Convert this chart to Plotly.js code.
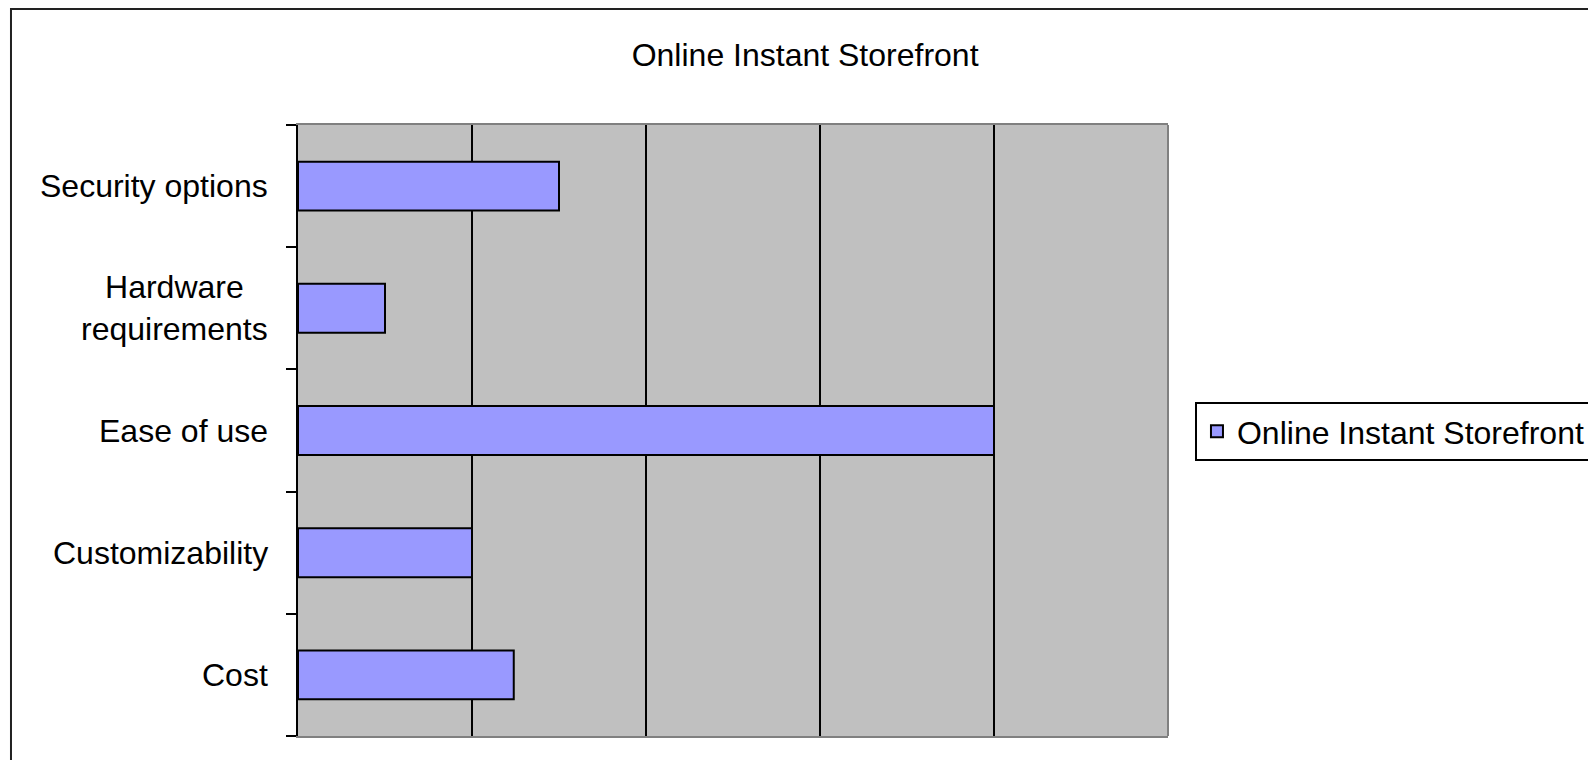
<!DOCTYPE html>
<html>
<head>
<meta charset="utf-8">
<script src="https://cdn.plot.ly/plotly-3.0.1.min.js"></script>
<style>html,body{margin:0;padding:0;background:#fff;}#chart{width:1588px;height:760px;}</style>
</head>
<body>
<div id="chart"></div>
<script>
// Categories listed bottom-to-top (as drawn on the category axis)
var categories = ["Cost", "Customizability", "Ease of use", "Hardware<br>requirements", "Security options"];
var values = [1.24, 1.0, 4.0, 0.5, 1.5];
var seriesName = "Online Instant Storefront";
var chartTitle = "Online Instant Storefront";
var gridValues = [1, 2, 3, 4];

var FONT = "Liberation Sans, Arial, sans-serif";
var FS = 32;

var trace = {
  type: "bar",
  orientation: "h",
  y: categories,
  x: values,
  name: seriesName,
  showlegend: true,
  marker: {color: "#9999FF", line: {color: "#000000", width: 2}},
  hoverinfo: "x+y"
};

var labelAnnotations = categories.map(function (c) {
  return {
    xref: "paper", yref: "y",
    x: -0.032, y: c,
    xanchor: "right", yanchor: "middle",
    align: "center",
    text: c,
    showarrow: false,
    font: {family: FONT, size: FS, color: "#000"}
  };
});

var layout = {
  width: 1588, height: 760,
  margin: {l: 298, r: 420, t: 125, b: 24, autoexpand: false},
  paper_bgcolor: "rgba(0,0,0,0)",
  plot_bgcolor: "#C0C0C0",
  font: {family: FONT, size: FS, color: "#000"},
  title: {
    text: chartTitle,
    xref: "container", yref: "container",
    x: 0.507, y: 0.928, xanchor: "center", yanchor: "middle",
    font: {family: FONT, size: FS, color: "#000"}
  },
  bargap: 0.6,
  xaxis: {
    range: [0, 5],
    tickmode: "array", tickvals: gridValues,
    showticklabels: false, ticks: "",
    showgrid: true, gridcolor: "#000000", gridwidth: 2,
    zeroline: false,
    showline: true, linecolor: "#808080", linewidth: 2, mirror: true,
    fixedrange: true
  },
  yaxis: {
    type: "category",
    showticklabels: false,
    ticks: "outside", tickson: "boundaries", ticklen: 10, tickwidth: 2, tickcolor: "#000",
    showgrid: false, zeroline: false,
    showline: true, linecolor: "#000000", linewidth: 2,
    fixedrange: true
  },
  legend: {
    x: 1.031, y: 0.5466, xanchor: "left", yanchor: "top",
    bgcolor: "#FFFFFF", bordercolor: "#000000", borderwidth: 2,
    font: {family: FONT, size: FS, color: "#000"}
  },
  annotations: labelAnnotations,
  shapes: [
    {type: "line", xref: "paper", yref: "paper", x0: 1, x1: 1, y0: 0, y1: 1,
     line: {color: "#808080", width: 2}},
    {type: "rect", xref: "paper", yref: "paper", x0: -0.3299, x1: 1.6, y0: -0.2, y1: 1.1898,
     line: {color: "#222222", width: 2}, fillcolor: "rgba(0,0,0,0)", layer: "below"}
  ]
};

Plotly.newPlot("chart", [trace], layout, {displayModeBar: false, staticPlot: true});
</script>
</body>
</html>
